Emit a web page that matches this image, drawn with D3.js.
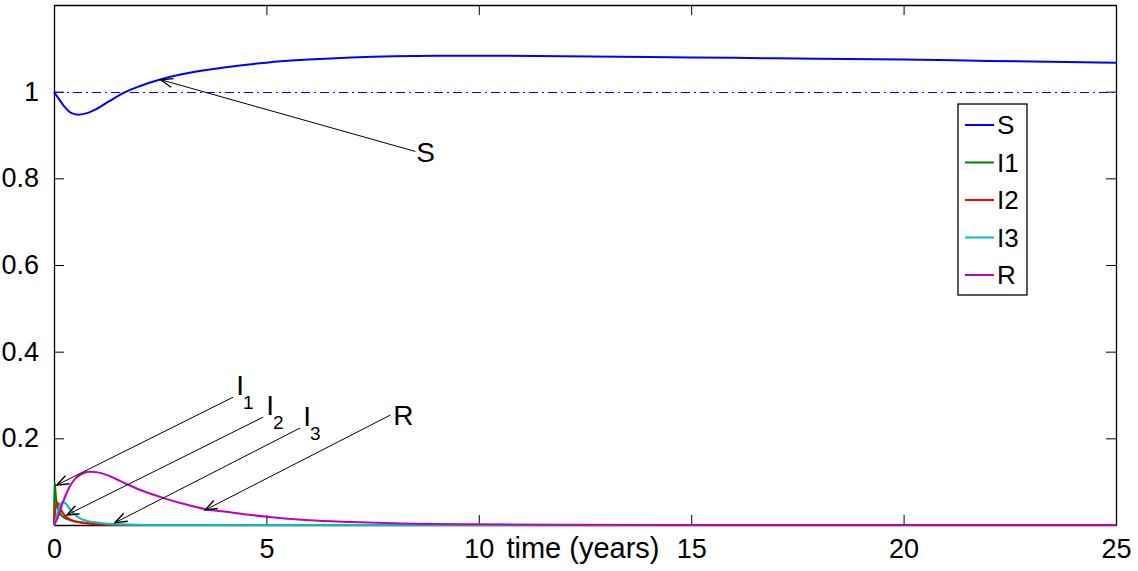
<!doctype html>
<html>
<head>
    <style>
        body { margin: 0; background: #fff; }
        text { font-family: "Liberation Sans", Arial, sans-serif; fill: #000; }
        .curve { fill: none; stroke-width: 2; }
    </style>
    <script src="https://d3js.org/d3.v7.min.js"></script>
</head>
<body>
<svg width="1138" height="571"></svg>
<script>
// time points (years) and values for each compartment
var sT = [0, 0.1, 0.25, 0.4, 0.57, 0.8, 1.0, 1.3, 1.7, 2.0, 2.5, 3, 3.5, 4, 5, 6, 7, 8, 9, 10, 12, 14, 16, 18, 20, 22, 25];
var sV = [1.0, 0.985, 0.965, 0.951, 0.947, 0.951, 0.960, 0.978, 1.0, 1.012, 1.028, 1.040, 1.049, 1.056, 1.067, 1.074, 1.079, 1.082, 1.083, 1.083, 1.082, 1.080, 1.078, 1.076, 1.074, 1.071, 1.067];

var i1T = [0, 0.015, 0.04, 0.07, 0.12, 0.2, 0.3, 0.5, 0.8, 1.2, 2, 25];
var i1V = [0, 0.098, 0.07, 0.045, 0.03, 0.02, 0.014, 0.008, 0.004, 0.0015, 0, 0];

var i2T = [0, 0.03, 0.07, 0.1, 0.15, 0.25, 0.4, 0.7, 1.0, 1.5, 2, 25];
var i2V = [0, 0.035, 0.052, 0.05, 0.038, 0.022, 0.012, 0.005, 0.002, 0.0005, 0, 0];

var i3T = [0, 0.05, 0.1, 0.15, 0.2, 0.27, 0.35, 0.46, 0.6, 0.8, 1.0, 1.25, 1.6, 2.2, 25];
var i3V = [0, 0.015, 0.035, 0.048, 0.053, 0.05, 0.04, 0.027, 0.016, 0.009, 0.006, 0.003, 0.001, 0, 0];

var rT = [0, 0.1, 0.2, 0.35, 0.5, 0.7, 0.85, 1.0, 1.3, 1.7, 2.0, 2.5, 3.0, 3.6, 4, 5, 6, 7, 8, 10, 12, 15, 25];
var rV = [0, 0.02, 0.05, 0.085, 0.107, 0.12, 0.123, 0.122, 0.113, 0.095, 0.082, 0.065, 0.05, 0.036, 0.031, 0.019, 0.011, 0.007, 0.004, 0.0015, 0.0005, 0, 0];

var seriesNames = ["S", "I1", "I2", "I3", "R"];
var seriesColors = ["#0000ff", "#008000", "#ff0000", "#00bfbf", "#bf00bf"];

var xTicks = [0, 5, 10, 15, 20, 25];
var yTicks = [0.2, 0.4, 0.6, 0.8, 1];

// annotations: label, subscript, tail (t, v), arrow tip (t, v)
var annLabels = ["S", "I", "I", "I", "R"];
var annSubs = ["", "1", "2", "3", ""];
var annTail = [[8.506, 0.862], [4.218, 0.295], [4.925, 0.249], [5.796, 0.224], [7.917, 0.2536]];
var annTip = [[2.514, 1.0276], [0.064, 0.092], [0.30, 0.023], [1.437, 0.0053], [3.558, 0.0346]];

var svg = d3.select("svg"),
    margin = {top: 5, right: 22, bottom: 46, left: 54},
    width = +svg.attr("width") - margin.left - margin.right,
    height = +svg.attr("height") - margin.top - margin.bottom;

var x = d3.scaleLinear().domain([0, 25]).range([0, width]);
var y = d3.scaleLinear().domain([0, 1.2]).range([height, 0]);

svg.append("defs").append("marker")
    .attr("id", "arrow")
    .attr("markerUnits", "userSpaceOnUse")
    .attr("viewBox", "-14 -6 16 12")
    .attr("markerWidth", 16).attr("markerHeight", 12)
    .attr("refX", 0).attr("refY", 0)
    .attr("orient", "auto")
  .append("path")
    .attr("d", "M-12,-4.5 L0,0 L-12,4.5")
    .attr("fill", "none").attr("stroke", "#000").attr("stroke-width", 1.4);

var g = svg.append("g").attr("transform", "translate(" + margin.left + "," + margin.top + ")");

// axes box with inward ticks on all four sides
var tickLen = 10;
g.append("g").attr("transform", "translate(0," + height + ")")
    .call(d3.axisBottom(x).tickValues(xTicks).tickSizeInner(-tickLen).tickSizeOuter(0).tickPadding(14));
g.append("g")
    .call(d3.axisTop(x).tickValues(xTicks).tickSizeInner(-tickLen).tickSizeOuter(0).tickFormat(""));
g.append("g")
    .call(d3.axisLeft(y).tickValues(yTicks).tickSizeInner(-tickLen).tickSizeOuter(0).tickPadding(15).tickFormat(d3.format("")));
g.append("g").attr("transform", "translate(" + width + ",0)")
    .call(d3.axisRight(y).tickValues(yTicks).tickSizeInner(-tickLen).tickSizeOuter(0).tickFormat(""));

g.selectAll(".domain").attr("stroke", "#000").attr("stroke-width", 1.3);
g.selectAll(".tick line").attr("stroke", "#000");
g.selectAll(".tick text").style("font-family", "Liberation Sans, Arial, sans-serif").style("font-size", "27px").attr("fill", "#000");

g.append("text")
    .attr("x", 583 - margin.left).attr("y", 558 - margin.top)
    .attr("text-anchor", "middle")
    .style("font-size", "29px")
    .text("time (years)");

// reference line at 1
g.append("line")
    .attr("x1", x(0)).attr("x2", x(25))
    .attr("y1", Math.round(y(1)) + 0.5).attr("y2", Math.round(y(1)) + 0.5)
    .attr("stroke", "#0000ff").attr("stroke-width", 1.2)
    .attr("stroke-dasharray", "9,4,2,4");

var line = d3.line()
    .x(function(d) { return x(d[0]); })
    .y(function(d) { return y(d[1]); })
    .curve(d3.curveMonotoneX);

var allT = [sT, i1T, i2T, i3T, rT];
var allV = [sV, i1V, i2V, i3V, rV];

allT.forEach(function(ts, k) {
    var pts = ts.map(function(t, i) { return [t, allV[k][i]]; });
    g.append("path")
        .attr("class", "curve")
        .attr("d", line(pts))
        .attr("stroke", seriesColors[k]);
});

// annotation arrows and labels
var labelOffsets = [[1, 11], [3, -2], [3, -2], [3, -2], [3, 10]];
annLabels.forEach(function(lab, k) {
    var tx = x(annTail[k][0]), ty = y(annTail[k][1]);
    g.append("line")
        .attr("x1", tx).attr("y1", ty)
        .attr("x2", x(annTip[k][0])).attr("y2", y(annTip[k][1]))
        .attr("stroke", "#000").attr("stroke-width", 1)
        .attr("marker-end", "url(#arrow)");
    var t = g.append("text")
        .attr("x", tx + labelOffsets[k][0]).attr("y", ty + labelOffsets[k][1])
        .style("font-size", "28px");
    t.append("tspan").text(lab);
    if (annSubs[k]) {
        t.append("tspan").attr("dy", 14).attr("dx", -1).style("font-size", "19px").text(annSubs[k]);
    }
});

// legend
var lg = g.append("g").attr("transform", "translate(" + (958 - margin.left) + "," + (104 - margin.top) + ")");
lg.append("rect")
    .attr("width", 69).attr("height", 191)
    .attr("fill", "#fff").attr("stroke", "#000").attr("stroke-width", 1.3);
seriesNames.forEach(function(name, k) {
    var yy = 21 + k * 37.5;
    lg.append("line")
        .attr("x1", 7).attr("x2", 36).attr("y1", yy).attr("y2", yy)
        .attr("stroke", seriesColors[k]).attr("stroke-width", 2);
    lg.append("text")
        .attr("x", 39).attr("y", yy + 9)
        .style("font-size", "26px")
        .text(name);
});
</script>
</body>
</html>
